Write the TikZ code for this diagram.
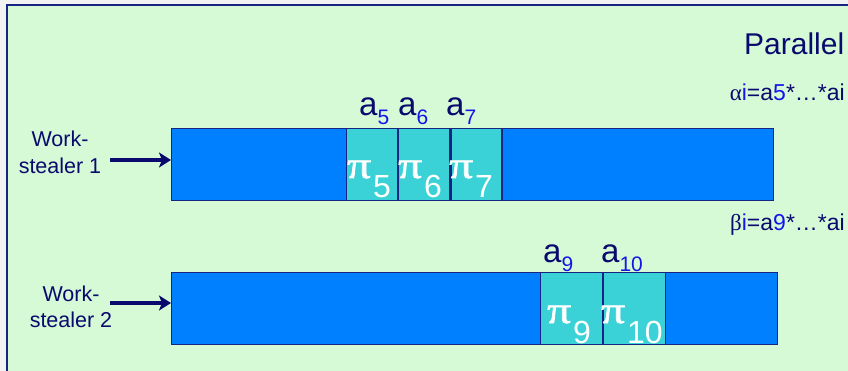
\documentclass[tikz,border=0pt]{standalone}
\usepackage{fontspec}
\setmainfont{Liberation Sans}
\newfontfamily\greekfont{Liberation Serif}
\newfontfamily\pifont[FakeBold=1.6]{Liberation Serif}
\usepackage{tikz}
\usetikzlibrary{arrows.meta, positioning, calc}
\definecolor{pagegray}{RGB}{242, 242, 242}
\definecolor{panelgreen}{RGB}{214, 250, 214}
\definecolor{navytext}{RGB}{10, 10, 110}
\definecolor{edgenavy}{RGB}{25, 35, 130}
\definecolor{barblue}{RGB}{0, 128, 255}
\definecolor{cellcyan}{RGB}{58, 210, 214}
\definecolor{subblue}{RGB}{20, 20, 235}
% a_k label above a cell, pi_k label inside a cell
\newcommand{\alab}[1]{{\fontsize{33}{33}\selectfont a}\raisebox{-9pt}{\fontsize{21}{21}\selectfont\color{subblue}#1}}
\newcommand{\pilab}[1]{\scalebox{1.25}[1]{\pifont\fontsize{38}{38}\selectfont π}\hspace{2pt}\raisebox{-20pt}{\fontsize{32}{32}\selectfont #1}}
\tikzset{
  panel/.style={draw=edgenavy, fill=panelgreen, line width=2pt},
  barblock/.style={
    rectangle, draw=edgenavy, fill=barblue, line width=1.2pt,
    minimum height=72pt, inner sep=0pt, anchor=north west
  },
  cellblock/.style={barblock, fill=cellcyan},
  plainlabel/.style={inner sep=0pt, text=navytext},
  alabel/.style={plainlabel, anchor=base west},
  pitext/.style={inner sep=0pt, text=white, anchor=base west},
  stealerlabel/.style={
    plainlabel, align=center, anchor=north,
    font=\fontsize{21.5}{26.5}\selectfont
  },
  productlabel/.style={plainlabel, anchor=base east, font=\fontsize{23}{23}\selectfont},
  stealarrow/.style={
    draw=navytext, line width=4.5pt,
    -{Stealth[length=12pt, width=15pt, inset=3pt]}
  }
}
\begin{document}
\begin{tikzpicture}[x=1pt, y=-1pt]

  % Page and slide panel
  \useasboundingbox (0,0) rectangle (848,371);
  \fill[pagegray] (0,0) rectangle (848,371);
  \draw[panel] (7,5.5) rectangle (870,390);

  % Title
  \node[plainlabel, anchor=base west, font=\fontsize{30}{30}\selectfont] (title) at (744,55) {Parallel};

  % Work-stealer 1 and its interval
  \node[barblock, minimum width=602pt] (bar1) at (171,128) {};
  \node[cellblock, minimum width=51pt] (pi5) at (346,128) {};
  \node[cellblock, minimum width=51pt, right=0pt of pi5] (pi6) {};
  \node[cellblock, minimum width=51pt, right=0pt of pi6] (pi7) {};

  \node[pitext] (t5) at (347,178) {\pilab{5}};
  \node[pitext] (t6) at (398,178) {\pilab{6}};
  \node[pitext] (t7) at (449,178) {\pilab{7}};

  \node[alabel] (a5) at (359,116) {\alab{5}};
  \node[alabel] (a6) at (398,116) {\alab{6}};
  \node[alabel] (a7) at (446,116) {\alab{7}};

  \node[productlabel] (alpha) at (845,101) {{\greekfont α}{\color{subblue}i}=a{\color{subblue}5}*…*ai};

  \node[stealerlabel] (ws1) at (60,131) {Work-\\stealer 1};
  \coordinate (in1) at (110,160);
  \draw[stealarrow] (in1) -- (in1 -| bar1.west);

  % Work-stealer 2 and its interval
  \node[barblock, minimum width=606pt] (bar2) at (171,272) {};
  \node[cellblock, minimum width=62pt] (pi9) at (540,272) {};
  \node[cellblock, minimum width=62pt, right=0pt of pi9] (pi10) {};

  \node[pitext] (t9) at (547,323) {\pilab{9}};
  \node[pitext] (t10) at (601,323) {\pilab{10}};

  \node[alabel] (a9) at (543,262) {\alab{9}};
  \node[alabel] (a10) at (601,262) {\alab{10}};

  \node[productlabel] (beta) at (845,231) {{\greekfont β}{\color{subblue}i}=a{\color{subblue}9}*…*ai};

  \node[stealerlabel] (ws2) at (71,285.5) {Work-\\stealer 2};
  \coordinate (in2) at (110,303);
  \draw[stealarrow] (in2) -- (in2 -| bar2.west);

\end{tikzpicture}
\end{document}
